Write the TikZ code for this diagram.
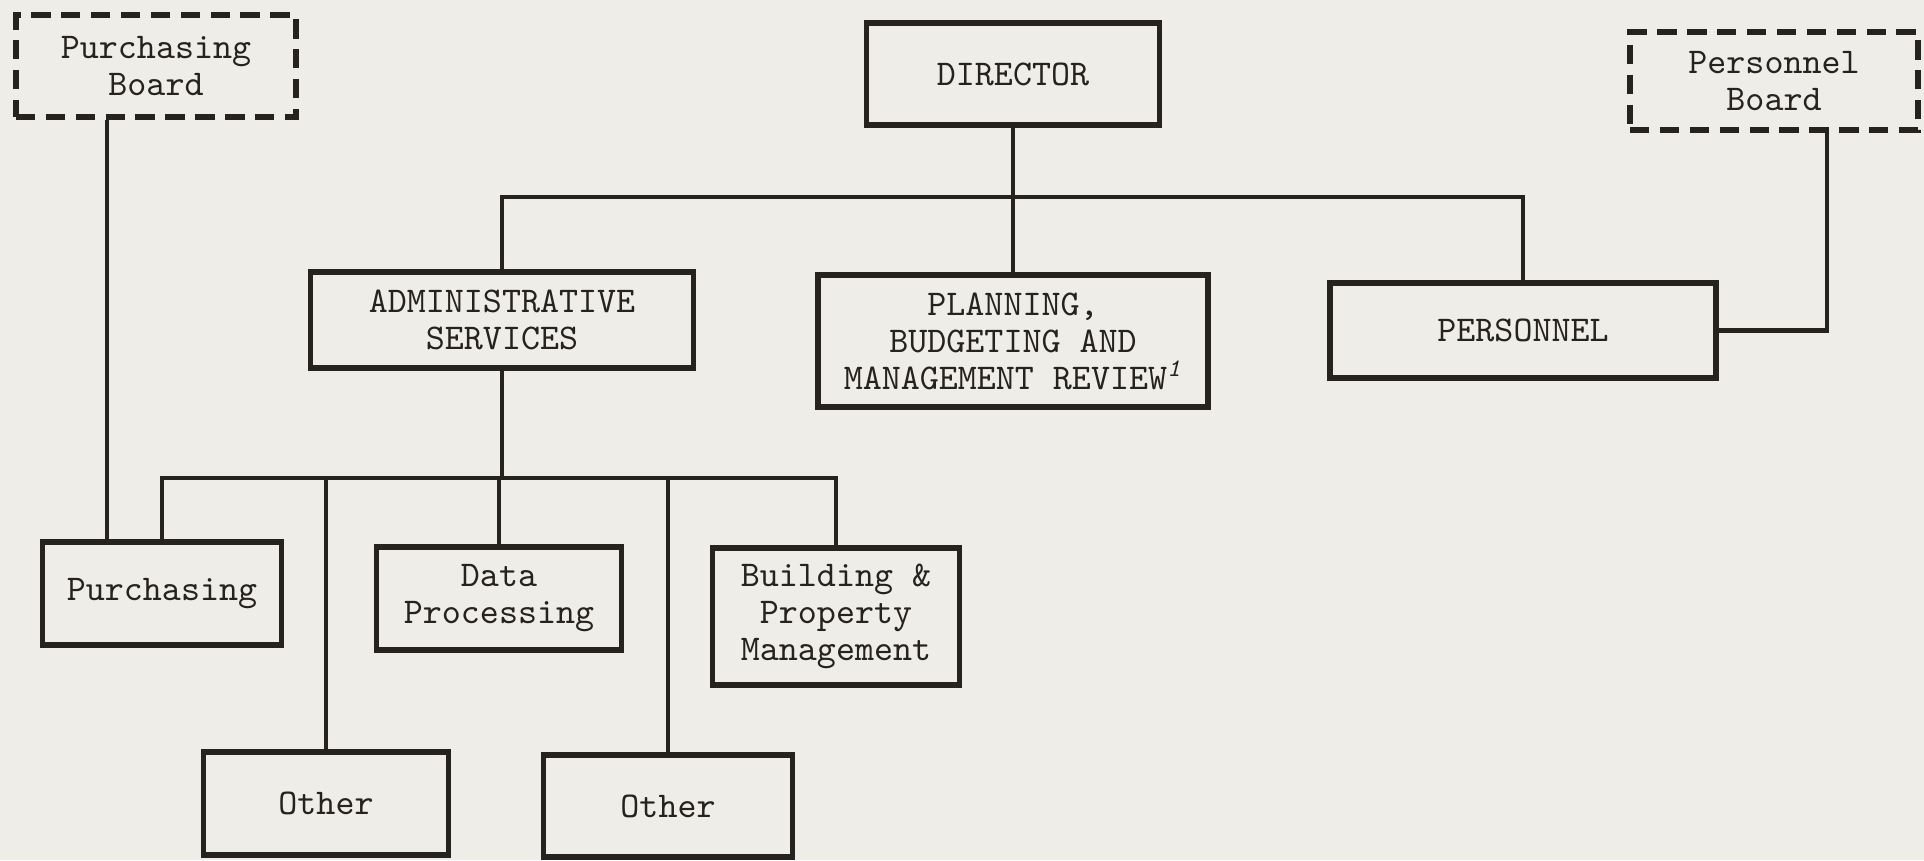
\documentclass[tikz,border=0pt]{standalone}
\usepackage{fontspec}
\usepackage{tikz}
\usetikzlibrary{positioning}

\definecolor{paper}{RGB}{238,237,232}
\definecolor{ink}{RGB}{38,34,31}

\begin{document}
\begin{tikzpicture}[
  x=0.01cm, y=-0.01cm,
  box/.style={rectangle, draw=ink, line width=1.6pt, align=center,
              font=\ttfamily\fontsize{10.3}{10.5}\selectfont, text=ink},
  board/.style={box, dash pattern=on 5.5pt off 3pt},
  link/.style={draw=ink, line width=1.2pt}
]
  \fill[paper] (0,0) rectangle (1924,860);

  % Top row: boards and director
  \node[board, minimum width=2.80cm, minimum height=1.02cm] (pboard)   at (156,66)   {Purchasing\\Board};
  \node[box,   minimum width=2.93cm, minimum height=1.02cm] (dir)      at (1013,74)  {DIRECTOR};
  \node[board, minimum width=2.88cm, minimum height=0.98cm] (perboard) at (1774,81)  {Personnel\\Board};

  % Second row
  \node[box, minimum width=3.83cm, minimum height=0.96cm] (admin) at (502,320)   {ADMINISTRATIVE\\SERVICES};
  \node[box, minimum width=3.90cm, minimum height=1.32cm] (plan)  at (1013,341)  {PLANNING,\\BUDGETING AND\\MANAGEMENT REVIEW\textsuperscript{\itshape 1}};
  \node[box, minimum width=3.86cm, minimum height=0.95cm] (pers)  at (1523,330.5) {PERSONNEL};

  % Units under administrative services
  \node[box, minimum width=2.39cm, minimum height=1.03cm] (purch) at (162,593.5) {Purchasing};
  \node[box, minimum width=2.45cm, minimum height=1.03cm] (data)  at (499,598.5) {Data\\Processing};
  \node[box, minimum width=2.47cm, minimum height=1.37cm] (bldg)  at (836,616.5) {Building \&\\Property\\Management};
  \node[box, minimum width=2.45cm, minimum height=1.03cm] (oth1)  at (326,803.5) {Other};
  \node[box, minimum width=2.49cm, minimum height=1.02cm] (oth2)  at (668,806)   {Other};

  % Bus lines
  \coordinate (topbus) at (1013,197);
  \coordinate (lowbus) at (502,478);

  % Connectors
  \draw[link] (dir.south) -- (plan.north);
  \draw[link] (admin.north) |- (topbus) -| (pers.north);
  \draw[link] ([xshift=0.53cm]perboard.south) |- (pers.east);
  \draw[link] (admin.south) -- (lowbus);
  \draw[link] (purch.north) |- (lowbus) -| (bldg.north);
  \draw[link] (data.north) -- (data.north |- lowbus);
  \draw[link] (oth1.north) -- (oth1.north |- lowbus);
  \draw[link] (oth2.north) -- (oth2.north |- lowbus);
  \draw[link] ([xshift=-0.49cm]pboard.south) -- ([xshift=-0.49cm]pboard.south |- purch.north);
\end{tikzpicture}
\end{document}
